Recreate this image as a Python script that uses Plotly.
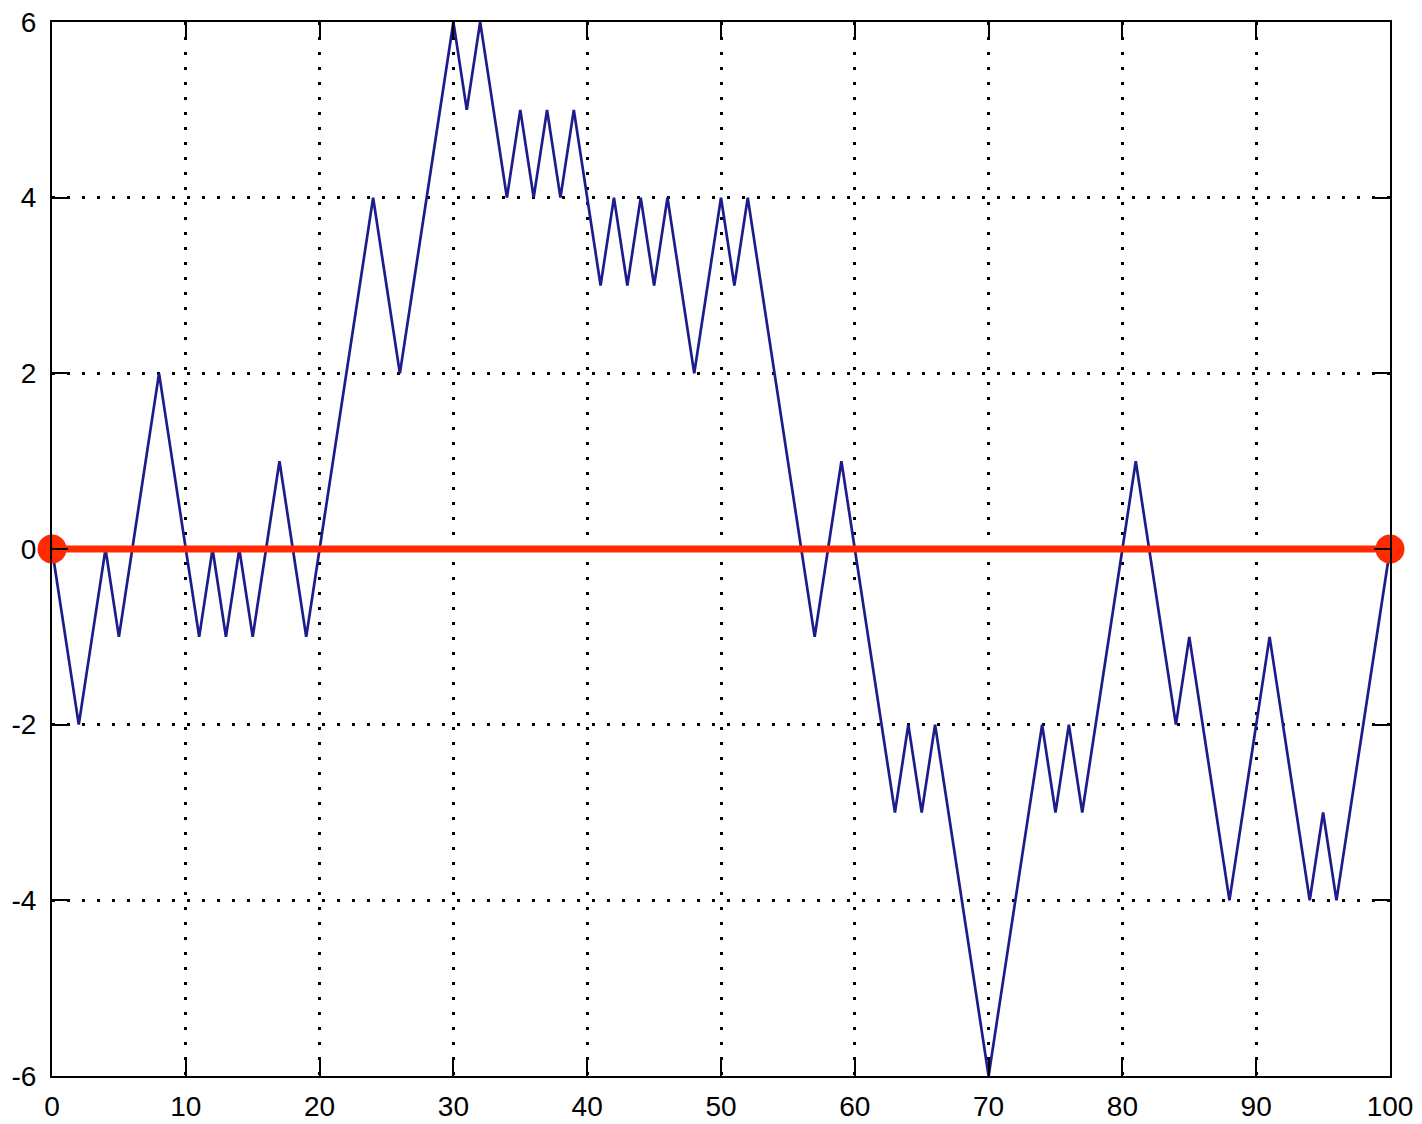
import plotly.graph_objects as go

# Simple +/-1 random walk, 100 steps, starting and ending at 0
steps = list(range(0, 101))
walk = [
    0, -1, -2, -1, 0, -1, 0, 1, 2, 1,
    0, -1, 0, -1, 0, -1, 0, 1, 0, -1,
    0, 1, 2, 3, 4, 3, 2, 3, 4, 5,
    6, 5, 6, 5, 4, 5, 4, 5, 4, 5,
    4, 3, 4, 3, 4, 3, 4, 3, 2, 3,
    4, 3, 4, 3, 2, 1, 0, -1, 0, 1,
    0, -1, -2, -3, -2, -3, -2, -3, -4, -5,
    -6, -5, -4, -3, -2, -3, -2, -3, -2, -1,
    0, 1, 0, -1, -2, -1, -2, -3, -4, -3,
    -2, -1, -2, -3, -4, -3, -4, -3, -2, -1,
    0,
]

# Reference level joining the start and end points
ref_x = [0, 100]
ref_y = [0, 0]

x_ticks = [0, 10, 20, 30, 40, 50, 60, 70, 80, 90, 100]
x_labels = ["0", "10", "20", "30", "40", "50", "60", "70", "80", "90", "100"]
y_ticks = [-6, -4, -2, 0, 2, 4, 6]
y_labels = ["-6", "-4", "-2", "0", "2", "4", "6"]

fig = go.Figure()
fig.add_trace(go.Scatter(
    x=steps, y=walk, mode="lines",
    line=dict(color="#1c1c8c", width=2.7),
    showlegend=False, hoverinfo="skip",
))
fig.add_trace(go.Scatter(
    x=ref_x, y=ref_y, mode="lines+markers",
    line=dict(color="#ff2a00", width=7),
    marker=dict(color="#ff2a00", size=29),
    cliponaxis=False, showlegend=False, hoverinfo="skip",
))

axis_common = dict(
    showline=True, linecolor="black", linewidth=2, mirror="allticks",
    ticks="inside", ticklen=16, tickwidth=2, tickcolor="black",
    showgrid=True, gridcolor="black", gridwidth=2.5, griddash="3px,12px",
    zeroline=False, automargin=False,
    tickfont=dict(family="Liberation Sans, Arial, sans-serif", size=28, color="black"),
)

fig.update_xaxes(range=[0, 100], tickvals=x_ticks, ticktext=x_labels,
                 ticklabelstandoff=4, **axis_common)
fig.update_yaxes(range=[-6, 6], tickvals=y_ticks, ticktext=y_labels,
                 ticklabelstandoff=8, **axis_common)

fig.update_layout(
    width=1422, height=1124,
    margin=dict(l=52, r=32, t=22, b=48),
    paper_bgcolor="white", plot_bgcolor="white",
)

fig.write_html("out.html")
